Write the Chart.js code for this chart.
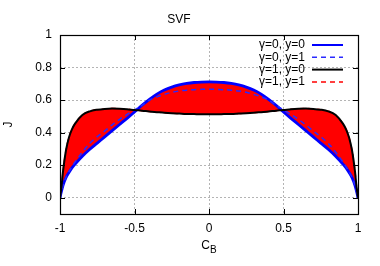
<!DOCTYPE html>
<html>
<head>
<meta charset="utf-8">
<script src="https://cdn.jsdelivr.net/npm/chart.js@4"></script>
<style>
  html, body { margin: 0; padding: 0; background: #fff; }
</style>
</head>
<body>
<canvas id="grafico" width="380" height="266"></canvas>
<script>
// ===== Data =====
const cb = [-1, -0.99, -0.98, -0.96, -0.94, -0.92, -0.9, -0.85, -0.8, -0.75, -0.7, -0.65, -0.6,
  -0.55, -0.5, -0.45, -0.4, -0.35, -0.3, -0.25, -0.2, -0.15, -0.1, -0.05, 0,
  0.05, 0.1, 0.15, 0.2, 0.25, 0.3, 0.35, 0.4, 0.45, 0.5, 0.55, 0.6, 0.65, 0.7,
  0.75, 0.8, 0.85, 0.9, 0.92, 0.94, 0.96, 0.98, 0.99, 1];

// γ=0, y=0
const g0y0 = [0, 0.04, 0.075, 0.123, 0.155, 0.183, 0.205, 0.255, 0.298, 0.336, 0.374, 0.412, 0.45,
  0.488, 0.527, 0.568, 0.605, 0.637, 0.662, 0.68, 0.693, 0.702, 0.708, 0.711, 0.712,
  0.711, 0.708, 0.702, 0.693, 0.68, 0.662, 0.637, 0.605, 0.568, 0.527, 0.488, 0.45, 0.412, 0.374,
  0.336, 0.298, 0.255, 0.205, 0.183, 0.155, 0.123, 0.075, 0.04, 0];

// γ=0, y=1
const g0y1 = [0, 0.04, 0.075, 0.125, 0.16, 0.19, 0.218, 0.28, 0.335, 0.375, 0.41, 0.448, 0.482,
  0.512, 0.54, 0.568, 0.6, 0.62, 0.635, 0.648, 0.656, 0.661, 0.664, 0.666, 0.667,
  0.666, 0.664, 0.661, 0.656, 0.648, 0.635, 0.62, 0.6, 0.568, 0.54, 0.512, 0.482, 0.448, 0.41,
  0.375, 0.335, 0.28, 0.218, 0.19, 0.16, 0.125, 0.075, 0.04, 0];

// γ=1, y=0
const g1y0 = [0, 0.07, 0.16, 0.29, 0.37, 0.42, 0.454, 0.508, 0.531, 0.541, 0.546, 0.548, 0.547,
  0.544, 0.539, 0.535, 0.53, 0.526, 0.522, 0.519, 0.517, 0.515, 0.514, 0.513, 0.513,
  0.513, 0.514, 0.515, 0.517, 0.519, 0.522, 0.526, 0.53, 0.535, 0.539, 0.544, 0.547, 0.548, 0.546,
  0.541, 0.531, 0.508, 0.454, 0.42, 0.37, 0.29, 0.16, 0.07, 0];

// γ=1, y=1
const g1y1 = [0, 0.07, 0.16, 0.29, 0.37, 0.42, 0.454, 0.508, 0.531, 0.541, 0.546, 0.548, 0.547,
  0.544, 0.539, 0.535, 0.53, 0.526, 0.522, 0.519, 0.517, 0.515, 0.514, 0.513, 0.513,
  0.513, 0.514, 0.515, 0.517, 0.519, 0.522, 0.526, 0.53, 0.535, 0.539, 0.544, 0.547, 0.548, 0.546,
  0.541, 0.531, 0.508, 0.454, 0.42, 0.37, 0.29, 0.16, 0.07, 0];

const xTicks = [-1, -0.5, 0, 0.5, 1];
const yTicks = [0, 0.2, 0.4, 0.6, 0.8, 1];

const FONT = 'Liberation Sans, Arial, sans-serif';

// ===== Utils =====
function pontos(ys) {
  return cb.map((x, i) => ({ x, y: ys[i] }));
}

// eixos, moldura, legenda (estilo gnuplot)
const decoracao = {
  id: 'decoracao',
  afterDatasetsDraw(chart) {
    const { ctx, chartArea: a, scales } = chart;
    ctx.save();

    // ticks para dentro
    ctx.strokeStyle = '#000';
    ctx.lineWidth = 1;
    ctx.beginPath();
    xTicks.forEach(v => {
      const px = Math.round(scales.x.getPixelForValue(v)) + 0.5;
      ctx.moveTo(px, a.bottom); ctx.lineTo(px, a.bottom - 5);
      ctx.moveTo(px, a.top); ctx.lineTo(px, a.top + 5);
    });
    yTicks.forEach(v => {
      const py = Math.round(scales.y.getPixelForValue(v)) + 0.5;
      ctx.moveTo(a.left, py); ctx.lineTo(a.left + 5, py);
      ctx.moveTo(a.right, py); ctx.lineTo(a.right - 5, py);
    });
    ctx.stroke();

    // moldura
    ctx.lineWidth = 1.2;
    ctx.strokeRect(Math.round(a.left) + 0.5, Math.round(a.top) + 0.5,
      Math.round(a.right - a.left), Math.round(a.bottom - a.top));

    // legenda
    ctx.font = '12px ' + FONT;
    ctx.textAlign = 'right';
    ctx.textBaseline = 'middle';
    chart.data.datasets.forEach((ds, i) => {
      const y = a.top + 10 + i * 12.3;
      ctx.fillStyle = '#000';
      ctx.fillText(ds.label, a.right - 53, y);
      ctx.strokeStyle = ds.borderColor;
      ctx.lineWidth = Math.min(ds.borderWidth, 2);
      ctx.setLineDash(ds.borderDash || []);
      ctx.beginPath();
      ctx.moveTo(a.right - 46, y);
      ctx.lineTo(a.right - 15, y);
      ctx.stroke();
    });
    ctx.setLineDash([]);

    // titulo eixo y
    ctx.fillStyle = '#000';
    ctx.textAlign = 'center';
    ctx.save();
    ctx.translate(9, (a.top + a.bottom) / 2);
    ctx.rotate(-Math.PI / 2);
    ctx.fillText('J', 0, 0);
    ctx.restore();

    // titulo eixo x: C_B
    ctx.textAlign = 'left';
    ctx.textBaseline = 'alphabetic';
    ctx.font = '12px ' + FONT;
    const wC = ctx.measureText('C').width;
    ctx.font = '10px ' + FONT;
    const wB = ctx.measureText('B').width;
    const x0 = (a.left + a.right) / 2 - (wC + wB) / 2;
    ctx.font = '12px ' + FONT;
    ctx.fillText('C', x0, 248.5);
    ctx.font = '10px ' + FONT;
    ctx.fillText('B', x0 + wC, 252.5);

    ctx.restore();
  }
};

// ===== Chart =====
const linha = (label, ys, cor, largura, extra) => Object.assign({
  label,
  data: pontos(ys),
  borderColor: cor,
  borderWidth: largura,
  pointRadius: 0,
  cubicInterpolationMode: 'monotone',
  fill: false
}, extra);

new Chart(document.getElementById('grafico'), {
  type: 'line',
  data: {
    datasets: [
      linha('γ=0, y=0', g0y0, '#0000ff', 2.8, { order: 2 }),
      linha('γ=0, y=1', g0y1, '#2a2aff', 1.5, { order: 1, borderDash: [5, 4] }),
      linha('γ=1, y=0', g1y0, '#000000', 2, {
        order: 0,
        fill: { target: 0, above: '#ff0000', below: '#ff0000' },
        backgroundColor: '#ff0000'
      }),
      linha('γ=1, y=1', g1y1, '#ff0000', 1.5, { order: 3, borderDash: [5, 4] })
    ]
  },
  plugins: [decoracao],
  options: {
    responsive: false,
    animation: false,
    layout: { padding: { left: 0, right: 22, top: 0, bottom: 0 } },
    plugins: {
      legend: { display: false },
      tooltip: { enabled: false },
      filler: { drawTime: 'beforeDatasetsDraw' },
      title: {
        display: true,
        text: 'SVF',
        color: '#000',
        font: { family: FONT, size: 12, weight: 'normal' },
        padding: { top: 12, bottom: 8.6 }
      }
    },
    scales: {
      x: {
        type: 'linear',
        min: -1,
        max: 1,
        afterBuildTicks: s => { s.ticks = xTicks.map(v => ({ value: v })); },
        afterFit: s => { s.height = 52; },
        grid: { color: '#b4b4b4', drawTicks: false },
        border: { display: false, dash: [2, 2] },
        ticks: {
          color: '#000',
          font: { family: FONT, size: 12 },
          padding: 7,
          maxRotation: 0,
          autoSkip: false,
          callback: v => String(v)
        }
      },
      y: {
        min: -0.1,
        max: 1,
        afterBuildTicks: s => { s.ticks = yTicks.map(v => ({ value: v })); },
        afterFit: s => { s.width = 60; },
        grid: { color: '#b4b4b4', drawTicks: false },
        border: { display: false, dash: [2, 2] },
        ticks: {
          color: '#000',
          font: { family: FONT, size: 12 },
          padding: 8,
          autoSkip: false,
          callback: v => String(v)
        }
      }
    }
  }
});
</script>
</body>
</html>
